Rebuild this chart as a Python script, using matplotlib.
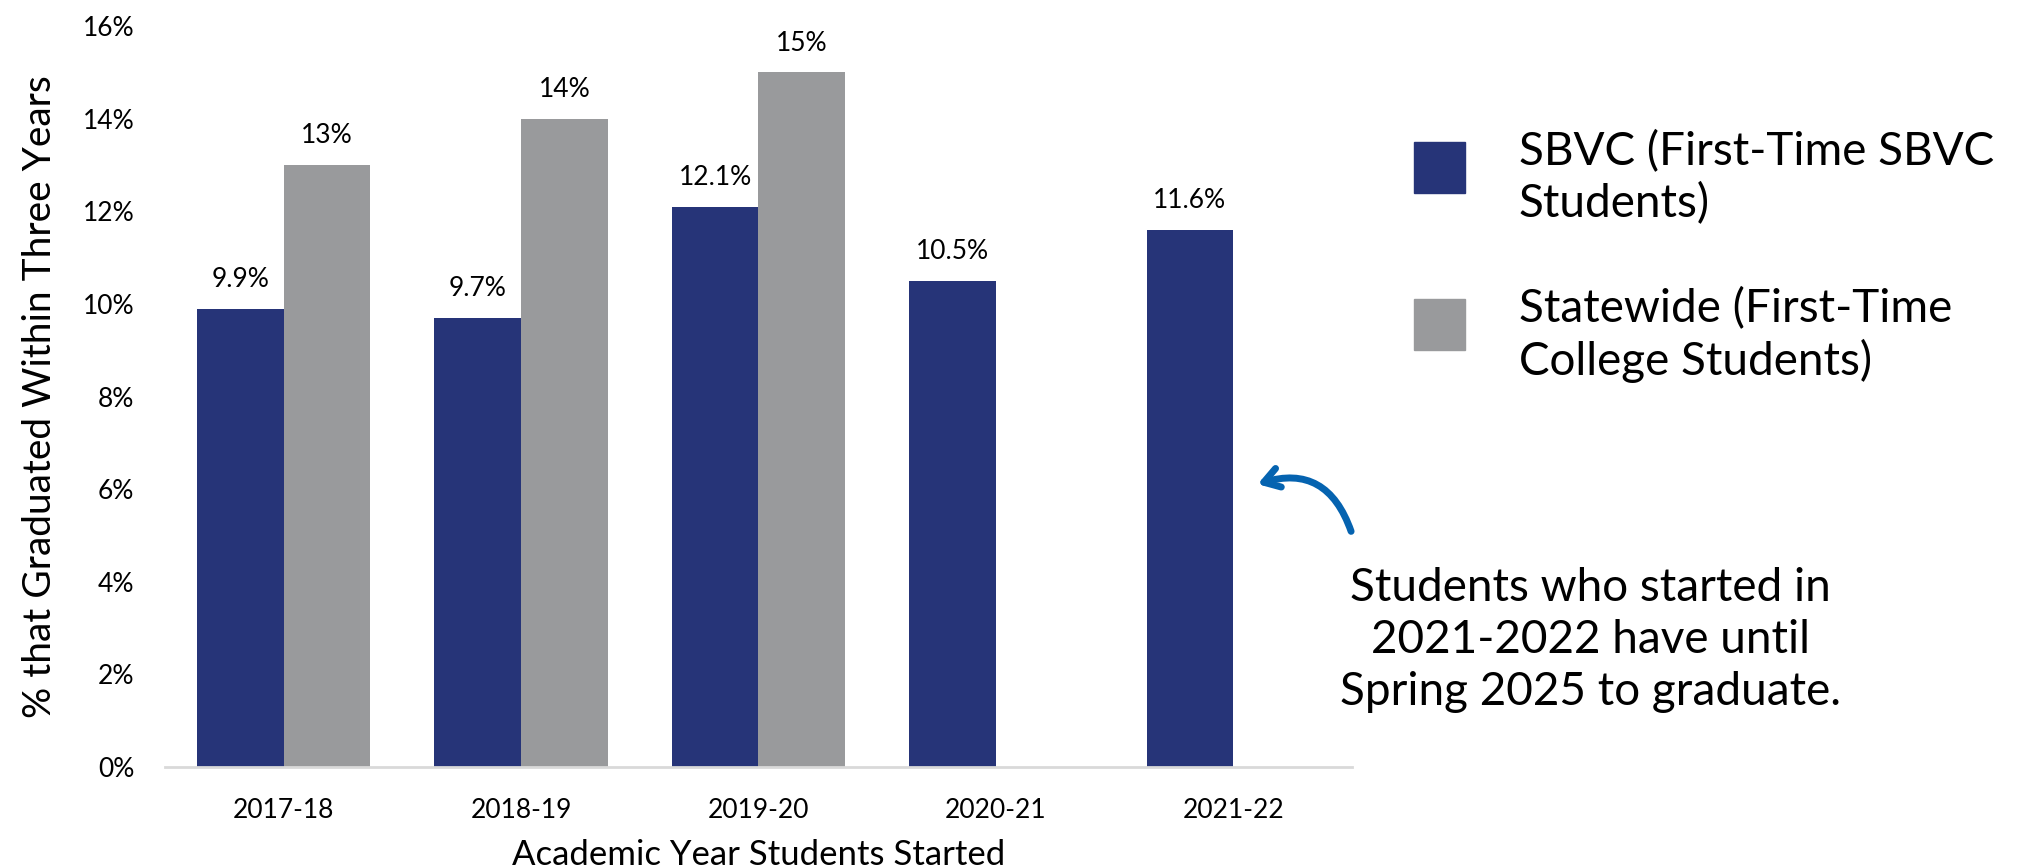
import matplotlib.pyplot as plt
import numpy as np
from matplotlib.patches import Rectangle

plt.rcParams['font.family'] = ['Lato', 'DejaVu Sans']

years = ["2017-18", "2018-19", "2019-20", "2020-21", "2021-22"]
sbvc = [9.9, 9.7, 12.1, 10.5, 11.6]
statewide = [13, 14, 15, np.nan, np.nan]
sbvc_labels = ["9.9%", "9.7%", "12.1%", "10.5%", "11.6%"]
state_labels = ["13%", "14%", "15%", "", ""]
legend_names = ["SBVC (First-Time SBVC\nStudents)", "Statewide (First-Time\nCollege Students)"]
note = "Students who started in\n2021-2022 have until\nSpring 2025 to graduate."

blue = "#263478"
grey = "#999a9c"

fig = plt.figure(figsize=(20.19, 8.68), dpi=100)
ax = fig.add_axes([0.0817, 0.1164, 0.5879, 0.8536])

x = np.arange(len(years))
w = 0.365
b1 = ax.bar(x - w/2, sbvc, w, color=blue)
b2 = ax.bar(x + w/2, statewide, w, color=grey)
ax.bar_label(b1, labels=sbvc_labels, padding=12, fontsize=19)
ax.bar_label(b2, labels=state_labels, padding=12, fontsize=19)

ax.set_xlim(-0.5, len(years) - 0.5)
ax.set_ylim(0, 16)
ax.set_yticks(np.arange(0, 17, 2))
ax.set_yticklabels([f"{v}%" for v in range(0, 17, 2)])
ax.set_xticks(x)
ax.set_xticklabels(years)
ax.tick_params(axis='y', length=0, pad=22, labelsize=19)
ax.tick_params(axis='x', length=0, pad=22, labelsize=19)
for s in ["top", "right", "left"]:
    ax.spines[s].set_visible(False)
ax.spines["bottom"].set_color("#d9d9d9")
ax.spines["bottom"].set_linewidth(2)
ax.set_xlabel("Academic Year Students Started", fontsize=25, labelpad=12)
ax.set_ylabel("% that Graduated Within Three Years", fontsize=28, labelpad=18)

# legend, drawn by hand
for i, (name, col) in enumerate(zip(legend_names, [blue, grey])):
    y0 = 1 - (142 + i * 157) / 868
    fig.add_artist(Rectangle((1414 / 2019, y0 - 51 / 868), 51 / 2019, 51 / 868,
                             transform=fig.transFigure, color=col))
    fig.text(1519 / 2019, y0 + 12 / 868, name, fontsize=33, va="top", ha="left",
             linespacing=1.25)

# note with curved arrow
fig.text(1590 / 2019, 1 - 640 / 868, note, fontsize=33, ha="center", va="center",
         linespacing=1.3)
ax.annotate("", xy=(1255, 868 - 485), xycoords="figure pixels",
            xytext=(1352, 868 - 534), textcoords="figure pixels",
            arrowprops=dict(arrowstyle="->,head_length=1.1,head_width=0.7", lw=5,
                            color="#0563b0", connectionstyle="arc3,rad=0.5",
                            capstyle="round", joinstyle="round"))

fig.savefig("out.png", dpi=100)
